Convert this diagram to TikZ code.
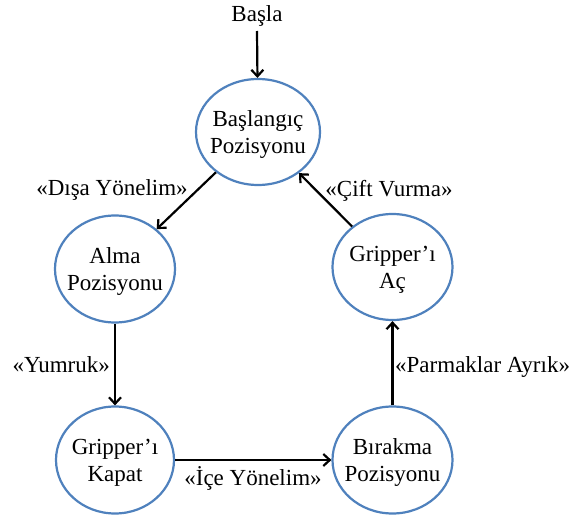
\documentclass[tikz,border=0pt]{standalone}
\usepackage{fontspec}
\setmainfont{Liberation Serif}
\usetikzlibrary{shapes.geometric,arrows.meta}
\definecolor{statering}{RGB}{79,129,189}
\begin{document}
\begin{tikzpicture}[x=1pt,y=-1pt,
  every node/.style={font=\fontsize{23}{27}\selectfont},
  state/.style={ellipse,draw=statering,line width=2.2pt,fill=white,
    minimum width=120pt,minimum height=107pt,inner sep=0pt},
  stext/.style={inner sep=0pt,align=center,yshift=-3pt},
  lbl/.style={inner sep=0pt},
  flow/.style={draw=black,line width=2.2pt,-{Straight Barb[length=6.5pt,width=12pt,line width=2.2pt]}}]
  \useasboundingbox (0,0) rectangle (574,516);

  % states: the outline, then its two-line caption
  \node[state,minimum width=124pt,minimum height=106pt] (start) at (258,132) {};
  \node[stext] (startt) at (start) {Başlangıç\\Pozisyonu};
  \node[state] (alma) at (115,269) {};
  \node[stext] (almat) at (alma) {Alma\\Pozisyonu};
  \node[state,minimum width=118pt] (kapat) at (115,460) {};
  \node[stext] (kapatt) at (kapat) {Gripper’ı\\Kapat};
  \node[state] (birak) at (392.5,460) {};
  \node[stext] (birakt) at (birak) {Bırakma\\Pozisyonu};
  \node[state,minimum height=106pt] (ac) at (392.5,267) {};
  \node[stext] (act) at (ac) {Gripper’ı\\Aç};

  % entry point
  \node[lbl,anchor=base] (basla) at (257,22) {Başla};
  \coordinate (entry) at (257,31);

  % transitions
  \draw[flow] (entry) -- (start);
  \draw[flow] (start) -- (alma);
  \draw[flow] (alma) -- (kapat);
  \draw[flow] (kapat) -- (birak);
  \draw[flow] (birak) -- (ac);
  \draw[flow] (ac) -- (start);

  % transition labels
  \node[lbl,anchor=base] (ldisa) at (112,196) {«Dışa Yönelim»};
  \node[lbl,anchor=base] (lcift) at (389,197) {«Çift Vurma»};
  \node[lbl,anchor=base east] (lyum) at (110,373) {«Yumruk»};
  \node[lbl,anchor=base west] (lparm) at (395,373) {«Parmaklar Ayrık»};
  \node[lbl,anchor=base] (lice) at (253,485) {«İçe Yönelim»};
\end{tikzpicture}
\end{document}
